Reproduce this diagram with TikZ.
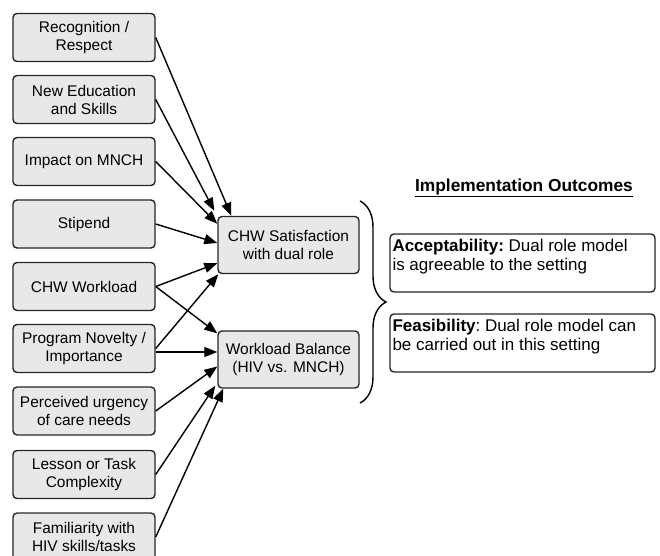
\documentclass[tikz,border=0pt]{standalone}
\usepackage{fontspec}
\setmainfont{Liberation Sans}
\usepackage{tikz}
\usetikzlibrary{positioning, arrows.meta, calc, decorations.pathreplacing}

\begin{document}
\begin{tikzpicture}[x=0.03cm, y=-0.03cm,
    factor/.style={draw=black!85, fill=black!9, rounded corners=0.12cm, line width=1.2pt,
      minimum width=4.26cm, minimum height=1.44cm, align=center, inner sep=1pt,
      font=\fontsize{13.2}{15.4}\selectfont},
    mediator/.style={factor, minimum width=4.23cm, minimum height=1.71cm},
    outcome/.style={draw=black!85, fill=white, rounded corners=0.12cm, line width=1.2pt,
      minimum width=7.95cm, minimum height=1.74cm},
    outtext/.style={anchor=north west, align=left, inner sep=0pt,
      font=\fontsize{14.5}{15.6}\selectfont\frenchspacing},
    link/.style={line width=1.2pt, -{Triangle[length=0.39cm, width=0.3cm]}}]
    \useasboundingbox (0,0) rectangle (660,556);

    % draw the factors on the left
    \node[factor] (rec)  at (84, 37.5)  {Recognition /\\Respect};
    \node[factor] (edu)  at (84, 99.5)  {New Education\\and Skills};
    \node[factor] (imp)  at (84, 161.5) {Impact on MNCH};
    \node[factor] (sti)  at (84, 224)   {Stipend};
    \node[factor] (load) at (84, 286.5) {CHW Workload};
    \node[factor] (nov)  at (84, 348.5) {Program Novelty /\\Importance};
    \node[factor] (urg)  at (84, 411)   {Perceived urgency\\of care needs};
    \node[factor] (les)  at (84, 474.5) {Lesson or Task\\Complexity};
    \node[factor] (fam)  at (84, 537)   {Familiarity with\\HIV skills/tasks};

    % draw the two middle boxes
    \node[mediator] (sat) at (288.5, 245)   {CHW Satisfaction\\with dual role};
    \node[mediator] (wb)  at (288.5, 359.5) {Workload Balance\\(HIV vs. MNCH)};

    % draw the arrows into the middle boxes
    \draw[link] (rec.east)  -- ($(sat.north west)+(14,0)$);
    \draw[link] (edu.east)  -- ($(sat.north west)+(-3,-5)$);
    \draw[link] (imp.east)  -- ($(sat.north west)+(0,8)$);
    \draw[link] (sti.east)  -- ($(sat.west)+(0,-2)$);
    \draw[link] (load.east) -- ($(sat.south west)+(0,-11)$);
    \draw[link] (load.east) -- ($(wb.north west)+(0,3)$);
    \draw[link] (nov.east)  -- ($(sat.south west)+(1,0)$);
    \draw[link] ($(nov.east)+(0,3.5)$) -- ($(wb.west)+(0,-7.5)$);
    \draw[link] (urg.east)  -- ($(wb.west)+(0,7)$);
    \draw[link] (les.east)  -- ($(wb.south west)+(-2,-3)$);
    \draw[link] (fam.east)  -- ($(wb.south west)+(6,0)$);

    % draw the brace
    \draw[line width=1.2pt, decorate, decoration={brace, amplitude=0.78cm}] (360,201) -- (360,403);

    % draw the outcomes
    \node[font=\fontsize{14.8}{17}\selectfont\bfseries, anchor=base] (title) at (524, 191)
      {\underline{Implementation Outcomes}};
    \node[outcome] (acc) at (522.5, 263) {};
    \node[outcome] (fea) at (522.5, 343) {};
    \node[outtext] (acctext) at ($(acc.north west)+(3,6)$)
      {\textbf{Acceptability:} Dual role model\\is agreeable to the setting};
    \node[outtext] (featext) at ($(fea.north west)+(3,6)$)
      {\textbf{Feasibility}: Dual role model can\\be carried out in this setting};

\end{tikzpicture}
\end{document}
